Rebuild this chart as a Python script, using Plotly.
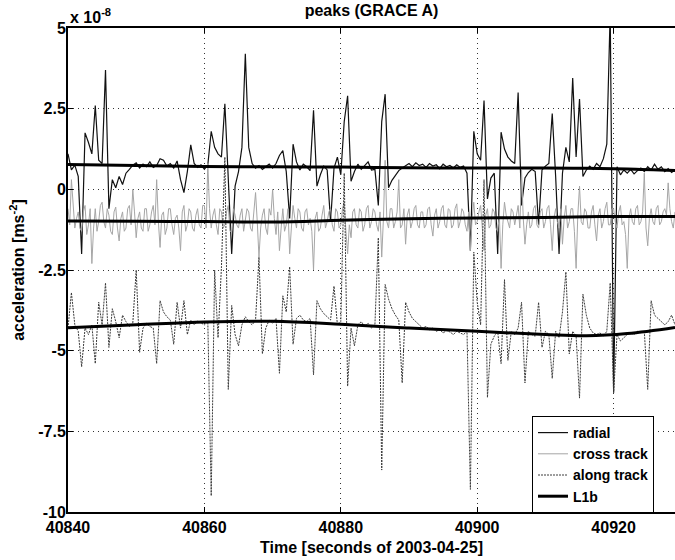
import plotly.graph_objects as go

# ---------------- data (values in units of 1e-8 m/s^2) ----------------
T0 = 40840.0
DT = 0.5

radial = [
    1.10, 0.60, 0.75, 0.40, -2.00, 1.75, 1.45, 1.10, 2.60, 0.90, 0.80, 3.70, -0.60, 0.30, 0.05, 0.40, 0.15, 0.50, 0.62, 0.75,
    0.82, 0.66, 0.78, 0.70, 0.85, 0.68, 0.74, 0.95, 0.90, 0.72, 0.80, 0.66, 0.88, 0.30, -0.10, 0.55, 1.38, 0.80, 0.68, 0.76,
    0.62, 0.75, 1.80, 1.30, 1.10, 1.00, 2.65, 0.20, -2.00, 0.10, 0.55, 1.30, 4.20, 1.30, 0.80, 0.66, 0.74, 0.62, 0.70, 0.78,
    0.66, 0.80, 1.05, 1.20, 0.55, -0.90, 1.40, 0.85, 0.60, 0.78, 0.70, 0.58, 2.45, 0.10, 0.45, 0.72, 0.60, -1.00, 0.65, 1.00,
    0.45, 2.10, 2.90, 0.25, 0.55, 0.78, 0.62, 0.72, 0.85, 0.60, 0.62, -0.50, 2.10, 2.95, 0.05, 0.28, 0.45, 0.58, 0.66, 0.74,
    0.80, 0.70, 0.82, 0.74, 0.78, 0.68, 0.80, 0.72, 0.76, 0.64, 0.78, 0.70, 0.74, 0.66, 0.76, 0.68, 0.72, 0.50, -1.90, 1.80,
    1.10, 0.90, 2.75, -0.30, 0.35, 0.50, -2.00, 1.77, 1.25, 1.00, 0.88, 0.80, 3.00, -0.50, 0.35, 0.52, 0.62, 0.55, -1.10, 0.60,
    0.72, 0.80, 2.35, 0.40, -2.00, 0.50, 1.30, 0.85, 3.45, 1.00, 2.80, 0.40, 0.60, 0.72, 0.62, 0.80, 0.70, 0.95, 1.40, 5.50,
    -6.30, 0.70, 0.45, 0.60, 0.50, 0.62, 0.48, 0.58, 0.66, 0.55, 0.70, 0.60, 0.78, 0.62, 0.70, 0.55, 0.64, 0.52, 0.60,
]

# cross track, samples on the full seconds / half seconds
cross_track = [
    -0.60, 0.30, -1.20, -0.70, -1.30, -0.50, -1.10, -2.30, -0.60, -1.00, -0.40, -1.20, -0.80, -1.40, -0.55, -1.60, -0.70, -1.20, -0.50, 0.00,
    -1.50, -0.70, -1.30, -0.60, -1.10, -0.50, 0.30, -1.80, -0.70, -1.20, -0.60, -1.40, -0.80, -1.90, -0.50, -1.10, -0.70, -1.30, -0.60, -1.20,
    -0.50, 0.80, -1.20, -0.60, -1.40, -0.70, -1.10, -0.50, -1.30, -0.80, -1.20, -0.60, -1.00, -0.70, -1.30, -0.10, -2.10, -0.80, -1.20, -0.60,
    0.00, -1.40, -1.90, -0.60, -1.10, -2.00, -0.50, -1.20, -0.70, -1.30, -0.60, -0.90, -2.50, -0.70, -1.20, -0.50, -1.00, -0.60, -1.30, -0.70,
    -1.10, -0.40, -2.00, -1.50, -0.60, -1.20, -0.70, -1.10, -0.50, -1.00, -0.70, -1.30, -2.10, 0.90, -1.20, -0.60, -1.00, 0.30, -1.10, -1.70,
    -0.60, -1.00, -0.50, -1.20, -0.70, -1.10, -0.55, -1.45, -0.60, -1.00, -0.50, -1.20, -0.65, -1.10, -0.45, -1.00, -0.70, -1.30, -1.90, -0.40,
    -1.00, -0.50, -1.90, -0.60, -1.10, -0.70, -1.30, -2.45, -0.40, -1.00, -0.60, -1.10, -0.50, 0.60, -1.70, -0.70, -1.10, -0.50, -1.20, -0.60,
    -1.00, -0.50, -1.90, -0.60, -1.20, -1.70, -0.50, -1.00, -0.60, -2.45, 0.10, -1.10, -0.70, -1.20, -0.50, -1.60, -0.60, -1.00, -0.40, -1.10,
    -0.60, -1.20, -0.50, -1.00, -2.45, -0.60, -1.10, -0.50, -1.00, 0.50, -1.75, -0.60, -1.10, -0.50, -1.00, -0.60, 0.20, -1.00, -0.70,
]
# cross track, samples a quarter second after each of the above
cross_track_quarter = [
    -1.10, -0.50, -0.90, -1.20, -0.70, -1.40, -0.60, -1.20, -1.30, -0.50, -1.00, -0.60, -1.30, -0.70, -1.20, -0.90, -1.30, -0.60, -1.10, -0.70,
    -0.90, -1.20, -0.60, -1.30, -0.70, -1.10, -1.00, -0.80, -1.40, -0.60, -1.10, -0.90, -1.20, -0.70, -1.30, -0.60, -1.20, -0.80, -1.10, -0.50,
    -1.20, -0.60, -0.80, -1.10, -0.60, -1.20, -0.70, -1.30, -0.60, -1.10, -0.80, -1.30, -0.60, -1.20, -0.60, -1.00, -1.20, -0.60, -1.40, -0.80,
    -0.90, -0.70, -1.20, -1.30, -0.60, -1.20, -0.90, -0.60, -1.20, -0.70, -1.10, -1.30, -0.90, -1.30, -0.80, -1.20, -0.70, -1.10, -0.60, -1.20,
    -0.60, -1.30, -1.10, -0.70, -1.10, -0.60, -1.30, -0.60, -1.20, -0.60, -1.10, -0.70, -0.90, -1.00, -0.60, -1.20, -0.70, -1.20, -0.60, -0.80,
    -1.20, -0.60, -1.10, -0.70, -1.20, -0.60, -1.10, -0.80, -1.20, -0.60, -1.10, -0.60, -1.20, -0.60, -1.20, -0.60, -1.10, -0.70, -0.90, -1.10,
    -0.70, -1.20, -0.80, -1.20, -0.60, -1.20, -0.80, -1.10, -0.80, -1.20, -0.70, -0.80, -1.20, -0.90, -1.10, -1.20, -0.60, -1.10, -0.70, -1.20,
    -0.60, -1.10, -0.90, -1.00, -0.60, -0.90, -1.20, -0.60, -1.30, -0.80, -1.00, -0.60, -1.20, -0.70, -1.10, -0.80, -1.20, -0.60, -1.10, -0.60,
    -1.00, -0.70, -1.10, -1.40, -0.90, -1.00, -0.60, -1.10, -0.70, -1.20, -0.90, -1.00, -0.60, -1.10, -0.70, -0.80, -0.60, -1.20,
]

along_track = [
    -4.30, -3.20, -4.20, -4.40, -5.50, -4.30, -4.50, -4.20, -5.40, -3.50, -4.20, -2.90, -4.90, -3.70, -4.10, -4.60, -3.90, -4.10, -4.25, -4.15,
    -2.50, -5.05, -4.30, -4.15, -4.25, -4.30, -5.40, -3.45, -3.80, -3.95, -4.05, -4.80, -3.50, -4.30, -3.45, -4.50, -4.05, -4.20, -4.08, -4.15,
    -4.20, -4.10, -9.50, -2.50, -4.60, -2.40, 1.00, -6.20, -3.60, -4.50, -4.85, -4.20, -3.95, -4.10, -4.20, -4.05, -2.10, -5.10, -4.30, -4.05,
    -4.15, -4.00, -5.70, -3.30, -3.80, -2.40, -4.80, -4.00, -3.90, -4.05, -4.10, -4.00, -5.75, -3.45, -3.70, -3.85, -3.95, -4.05, -3.00, -4.20,
    -4.10, 0.50, -6.10, -4.30, -4.85, -4.20, -4.10, -4.25, -4.15, -4.30, -4.20, -1.50, -8.70, -2.95, -3.40, -3.70, -3.90, -4.05, -6.00, -3.50,
    -3.80, -4.00, -4.10, -4.20, -4.30, -4.25, -4.35, -4.30, -4.40, -4.35, -4.45, -4.38, -4.42, -4.50, -4.40, -4.45, -4.50, -4.40, -9.30, -1.95,
    -3.50, -4.20, 0.30, -6.45, -4.80, -4.55, -4.40, -5.40, -2.80, -5.30, -4.40, -4.50, -4.30, -3.50, -6.00, -4.40, -4.50, -4.55, -3.50, -4.90,
    -4.40, -4.50, -5.86, -4.40, -4.60, -3.80, -2.56, -5.10, -4.40, -4.55, -6.47, -3.25, -3.90, -4.30, -4.45, -4.50, -4.45, -4.55, -4.40, -2.90,
    -6.30, -4.50, -4.70, -4.60, -4.50, -4.45, -4.50, -4.40, -4.45, -4.40, -6.20, -3.45, -3.90, -4.00, -4.10, -4.20, -4.10, -3.90, -4.20,
]

time_s = [T0 + DT * i for i in range(len(radial))]

cross_time, cross_vals = [], []
for i, v in enumerate(cross_track):
    cross_time.append(time_s[i])
    cross_vals.append(v)
    if i < len(cross_track_quarter):
        cross_time.append(time_s[i] + DT / 2)
        cross_vals.append(cross_track_quarter[i])

l1b_time = [40840, 40850, 40860, 40870, 40880, 40890, 40900, 40910, 40916, 40922, 40929]
l1b_radial = [0.77, 0.74, 0.71, 0.70, 0.69, 0.67, 0.66, 0.66, 0.65, 0.63, 0.58]
l1b_cross = [-0.98, -0.99, -1.00, -1.01, -0.96, -0.91, -0.89, -0.87, -0.85, -0.84, -0.84]
l1b_along = [-4.29, -4.20, -4.11, -4.09, -4.18, -4.30, -4.40, -4.50, -4.54, -4.47, -4.28]

x_ticks = [40840, 40860, 40880, 40900, 40920]
y_ticks = [-10, -7.5, -5, -2.5, 0, 2.5, 5]
y_tick_labels = ["-10", "-7.5", "-5", "-2.5", "0", "2.5", "5"]

# ---------------- figure ----------------
FONT = "Liberation Sans, Arial, Helvetica, sans-serif"
BOLD16 = dict(family=FONT, size=16, color="black", weight="bold")

fig = go.Figure()
fig.add_trace(go.Scatter(x=time_s, y=radial, mode="lines", name="radial",
                         line=dict(color="#111111", width=1.2)))
fig.add_trace(go.Scatter(x=cross_time, y=cross_vals, mode="lines", name="cross track",
                         line=dict(color="#a6a6a6", width=1)))
fig.add_trace(go.Scatter(x=time_s, y=along_track, mode="lines", name="along track",
                         line=dict(color="#3c3c3c", width=1, dash="2px,1px")))
for i, yy in enumerate([l1b_radial, l1b_cross, l1b_along]):
    fig.add_trace(go.Scatter(x=l1b_time, y=yy, mode="lines", name="L1b",
                             showlegend=(i == 0), legendgroup="l1b",
                             line=dict(color="black", width=3, shape="spline")))

fig.update_layout(
    width=675, height=560,
    margin=dict(l=68, r=0, t=28, b=48),
    paper_bgcolor="white", plot_bgcolor="white",
    font=BOLD16,
    title=dict(text="peaks (GRACE A)", x=0.5, xref="paper", xanchor="center",
               y=1 - 10 / 560, yref="container", yanchor="middle", font=BOLD16),
    showlegend=True,
    legend=dict(x=(532 - 68) / 607, y=(512 - 416) / 484, xanchor="left", yanchor="top",
                bgcolor="white", bordercolor="black", borderwidth=1,
                font=dict(family=FONT, size=14, color="black", weight="bold"),
                tracegroupgap=0),
)

fig.update_xaxes(
    range=[40840, 40929], tickvals=x_ticks, ticktext=[str(v) for v in x_ticks],
    showline=True, linecolor="black", linewidth=2, mirror="ticks",
    ticks="inside", ticklen=5, tickcolor="black",
    showgrid=True, gridcolor="#333333", gridwidth=1, griddash="1px,4px",
    zeroline=False, automargin=False, tickfont=BOLD16,
    title=dict(text="Time [seconds of 2003-04-25]", standoff=7, font=BOLD16),
)
fig.update_yaxes(
    range=[-10, 5], tickvals=y_ticks, ticktext=y_tick_labels,
    showline=True, linecolor="black", linewidth=2, mirror=False,
    ticks="inside", ticklen=5, tickcolor="black",
    showgrid=True, gridcolor="#333333", gridwidth=1, griddash="1px,4px",
    zeroline=False, automargin=False, tickfont=BOLD16,
    ticklabelstandoff=-3,
    title=dict(text="acceleration [ms<sup>-2</sup>]", standoff=10, font=BOLD16),
)

fig.add_annotation(text="x 10<sup>-8</sup>", xref="paper", yref="paper",
                   x=0, y=1, xanchor="left", yanchor="bottom", showarrow=False,
                   font=BOLD16)

fig.write_html("out.html", config={"displayModeBar": False},
               post_script="document.body.style.margin='0px';document.body.style.overflow='hidden';")
